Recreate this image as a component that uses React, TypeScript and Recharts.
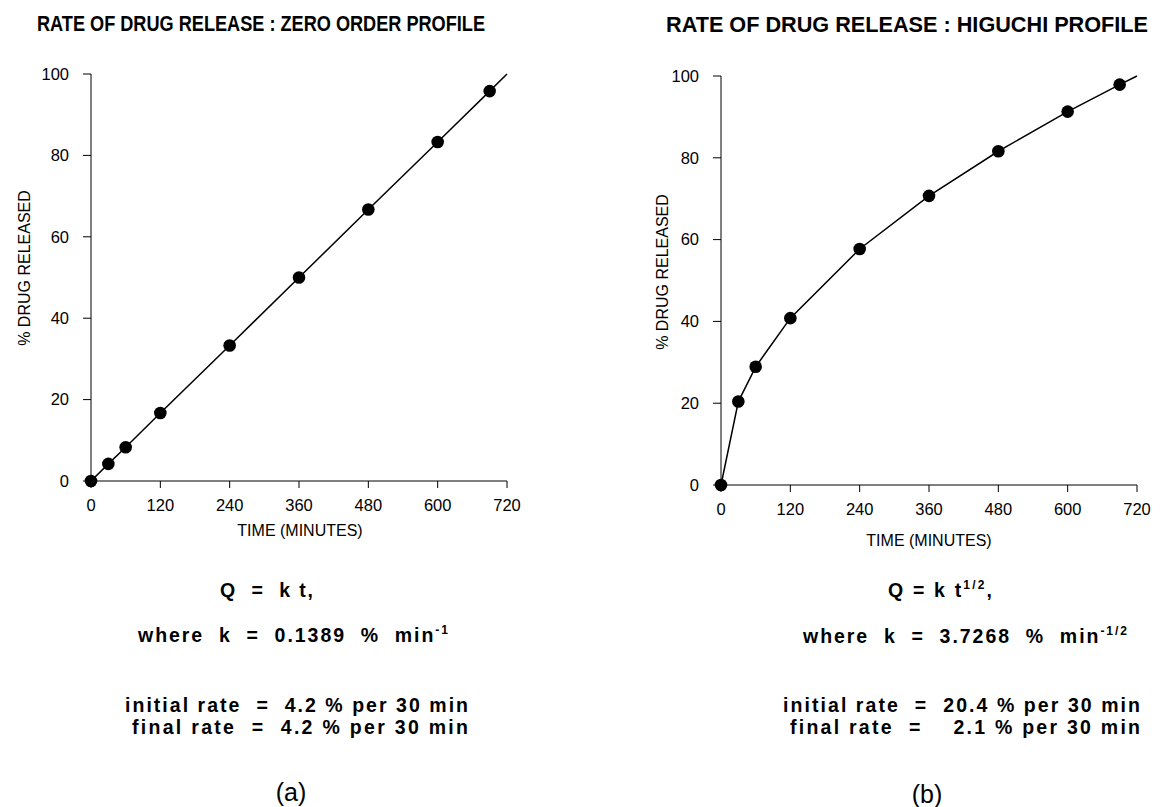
import { LineChart, Line, XAxis, YAxis } from 'recharts'

const timeMin = [0, 30, 60, 120, 240, 360, 480, 600, 690]
const zeroOrderPct = [0, 4.2, 8.3, 16.7, 33.3, 50.0, 66.7, 83.3, 95.8]
const higuchiPct = [0, 20.4, 28.9, 40.8, 57.7, 70.7, 81.6, 91.3, 97.9]

// the fitted line runs on past the last sample to the edge of the axis
const fitEndTime = 720
const zeroOrderFitEnd = 100
const higuchiFitEnd = 100

const timeTicks = [0, 120, 240, 360, 480, 600, 720]
const pctTicks = [0, 20, 40, 60, 80, 100]

const FONT = "'Liberation Sans', Arial, Helvetica, sans-serif"

interface Punto { t: number; q: number; fit?: boolean }

const buildData = (vals: number[], endVal: number): Punto[] => [
  ...timeMin.map((t, i) => ({ t, q: vals[i] })),
  { t: fitEndTime, q: endVal, fit: true },
]

const zeroData = buildData(zeroOrderPct, zeroOrderFitEnd)
const higuchiData = buildData(higuchiPct, higuchiFitEnd)

const tickStyle = { fontSize: 16.5, fill: '#000', fontFamily: FONT }

// filled dot on measured samples only, nothing on the fit end point
const renderDot = (props: any) => {
  const { cx, cy, payload, index } = props
  if (payload?.fit) return <g key={`d-${index}`} />
  return <circle key={`d-${index}`} cx={cx} cy={cy} r={6.3} fill="#000" stroke="none" />
}

function Painel({ data, width, height, top, right }: { data: Punto[]; width: number; height: number; top: number; right: number }) {
  return (
    <LineChart width={width} height={height} data={data} margin={{ top, right, left: 0, bottom: 0 }}>
      <XAxis type="number" dataKey="t" domain={[0, 720]} ticks={timeTicks} interval={0} height={40}
        stroke="#000" tickSize={7} tickMargin={11} tick={tickStyle} />
      <YAxis type="number" domain={[0, 100]} ticks={pctTicks} interval={0} width={91}
        stroke="#000" tickSize={8} tickMargin={14} tick={tickStyle} />
      <Line type="linear" dataKey="q" stroke="#000" strokeWidth={1.5} dot={renderDot} activeDot={false}
        isAnimationActive={false} />
    </LineChart>
  )
}

const bold = { fontFamily: FONT, fontWeight: 700, fill: '#000', whiteSpace: 'pre' as const }
const plain = { fontFamily: FONT, fontWeight: 400, fill: '#000', whiteSpace: 'pre' as const }

export default function App() {
  return (
    <div style={{ position: 'absolute', left: 0, top: 0, width: 1161, height: 807, background: '#fff', overflow: 'hidden' }}>
      <div style={{ position: 'absolute', left: 0, top: 50 }}>
        <Painel data={zeroData} width={530} height={471} top={24} right={23} />
      </div>
      <div style={{ position: 'absolute', left: 630, top: 50 }}>
        <Painel data={higuchiData} width={527} height={475} top={26} right={20} />
      </div>

      <svg width={1161} height={807} style={{ position: 'absolute', left: 0, top: 0, pointerEvents: 'none' }}>
        {/* titles */}
        <text x={37} y={31} fontSize={22} textLength={448} lengthAdjust="spacingAndGlyphs" style={bold}>
          RATE OF DRUG RELEASE : ZERO ORDER PROFILE
        </text>
        <text x={666} y={32} fontSize={22} textLength={482} lengthAdjust="spacingAndGlyphs" style={bold}>
          RATE OF DRUG RELEASE : HIGUCHI PROFILE
        </text>

        {/* axis titles */}
        <text x={24} y={268} fontSize={16} textAnchor="middle" dominantBaseline="central"
          transform="rotate(-90 24 268)" style={plain}>% DRUG RELEASED</text>
        <text x={662} y={272} fontSize={16} textAnchor="middle" dominantBaseline="central"
          transform="rotate(-90 662 272)" style={plain}>% DRUG RELEASED</text>
        <text x={300} y={536} fontSize={16} textAnchor="middle" style={plain}>TIME (MINUTES)</text>
        <text x={929} y={546} fontSize={16} textAnchor="middle" style={plain}>TIME (MINUTES)</text>

        {/* panel (a) notes */}
        <text x={220} y={597} fontSize={19.5} textLength={93} lengthAdjust="spacing" style={bold}>Q  =  k t,</text>
        <text x={138} y={642} fontSize={19.5} textLength={310} lengthAdjust="spacing" style={bold}>
          where  k  =  0.1389  %  min<tspan fontSize={12} dy={-8}>-1</tspan>
        </text>
        <text x={125} y={712} fontSize={19.5} textLength={343} lengthAdjust="spacing" style={bold}>
          initial rate  =  4.2 % per 30 min
        </text>
        <text x={132} y={734} fontSize={19.5} textLength={336} lengthAdjust="spacing" style={bold}>
          final rate  =  4.2 % per 30 min
        </text>
        <text x={291} y={801} fontSize={25} textAnchor="middle" style={plain}>(a)</text>

        {/* panel (b) notes */}
        <text x={888} y={597} fontSize={19.5} textLength={104} lengthAdjust="spacing" style={bold}>
          Q = k t<tspan fontSize={12} dy={-8}>1/2</tspan><tspan dy={8}>,</tspan>
        </text>
        <text x={803} y={643} fontSize={19.5} textLength={324} lengthAdjust="spacing" style={bold}>
          where  k  =  3.7268  %  min<tspan fontSize={12} dy={-8}>-1/2</tspan>
        </text>
        <text x={783} y={712} fontSize={19.5} textLength={357} lengthAdjust="spacing" style={bold}>
          initial rate  =  20.4 % per 30 min
        </text>
        <text x={790} y={734} fontSize={19.5} textLength={350} lengthAdjust="spacing" style={bold}>
          final rate  =    2.1 % per 30 min
        </text>
        <text x={927} y={803} fontSize={25} textAnchor="middle" style={plain}>(b)</text>
      </svg>
    </div>
  )
}
